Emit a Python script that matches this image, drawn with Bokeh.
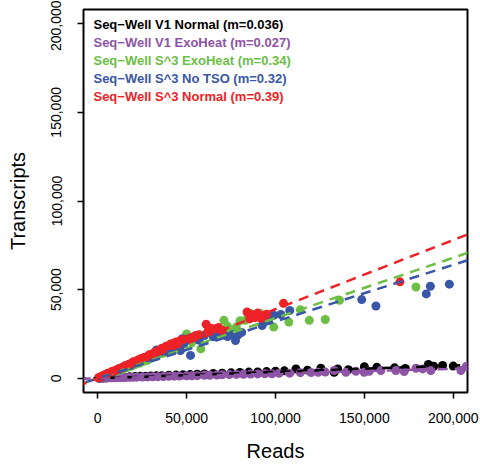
from bokeh.plotting import figure
from bokeh.models import Range1d, FixedTicker, NumeralTickFormatter, Slope, Label
from bokeh.embed import file_html
from bokeh.resources import INLINE

# Seq-Well V1 Normal
v1_norm_reads = [1000, 3000, 5000, 7000, 9000, 11000, 13000, 15000, 18000, 21000, 24000, 27000,
                 30000, 33000, 36000, 40000, 44000, 48000, 52000, 56000, 60000, 65000, 70000, 75000,
                 80000, 85000, 90000, 95000, 100000, 105000, 111500, 118000, 125500, 133000, 135000,
                 141000, 150000, 157000, 167000, 173000, 186000, 189000, 194000, 200000]
v1_norm_tx = [100, 200, 350, 400, 500, 600, 700, 750, 900, 1000, 1100, 1200,
              1300, 1400, 1500, 1700, 1800, 2000, 2100, 2300, 2500, 2700, 2900, 3100,
              3300, 3500, 3600, 3800, 4000, 4200, 5300, 4600, 5700, 3400, 5300,
              4900, 6500, 6200, 5900, 5600, 7800, 6800, 7200, 6900]

# Seq-Well V1 ExoHeat
v1_exo_reads = [500, 2000, 3500, 5000, 6500, 8000, 10000, 12000, 14000, 16000, 18000, 20000,
                22000, 25000, 28000, 31000, 34000, 37000, 40000, 43000, 46000, 50000, 53000, 56000,
                60000, 63000, 67000, 70000, 74000, 78000, 82000, 86000, 90000, 94000, 98000, 102000,
                108000, 114000, 120000, 124000, 128000, 133000, 139600, 145200, 149900, 152700,
                159300, 167700, 172400, 179000, 182800, 187400, 204300, 207200]
v1_exo_tx = [0, 100, 150, 200, 250, 300, 350, 400, 450, 500, 550, 600,
             650, 750, 800, 900, 950, 1000, 1100, 1200, 1300, 1400, 1400, 1500,
             1700, 1700, 1900, 2000, 2100, 2200, 2300, 2400, 2500, 2600, 2600, 2800,
             2900, 3200, 3300, 3400, 3500, 4400, 3400, 4000, 3400, 4000,
             4400, 4400, 3800, 5700, 5300, 4400, 4400, 6600]

# Seq-Well S^3 ExoHeat
s3_exo_reads = [1000, 2500, 4000, 6000, 8000, 10000, 12000, 14000, 16500, 19000, 21000, 23500,
                26000, 28000, 30000, 33000, 35000, 37000, 39000, 42000, 45000, 48000, 50000, 53000,
                55000, 58000, 60000, 64000, 67000, 71000, 73000, 75000, 78000, 80000, 83000, 86000,
                89000, 91500, 94000, 99000, 107500, 114000, 119000, 128000, 136000, 179000]
s3_exo_tx = [500, 1000, 1500, 2300, 3000, 3700, 4400, 5100, 6000, 6800, 7800, 8500,
             9600, 10200, 11500, 12400, 13800, 14200, 15100, 17000, 18600, 19800, 25000, 20500,
             21700, 16600, 24500, 25700, 27800, 32700, 29300, 26000, 28900, 32400, 32700, 36500,
             34800, 36500, 35000, 28900, 31700, 38700, 32700, 33200, 44000, 51500]

# Seq-Well S^3 No TSO
s3_notso_reads = [800, 2000, 3000, 4500, 6000, 7500, 9000, 10500, 12000, 13500, 15000, 17000,
                  18500, 20000, 22000, 24000, 26000, 28000, 30000, 31500, 33000, 35000, 36500, 38000,
                  40000, 42000, 44000, 46500, 47600, 48500, 50000, 52200, 54000, 57000, 60000, 65000,
                  68000, 70000, 73000, 76000, 77500, 79000, 81000, 92500, 96000, 99000, 103000,
                  108000, 148500, 156500, 184800, 187100, 197800]
s3_notso_tx = [300, 700, 1100, 1800, 2500, 3200, 3600, 4600, 5000, 5900, 6300, 7200,
               7400, 8600, 9000, 10000, 11500, 11600, 13300, 12000, 15900, 14500, 16600, 15300,
               17700, 16300, 18800, 15700, 22300, 19500, 22000, 12900, 23500, 21500, 24100, 23400,
               25600, 26800, 23600, 24500, 21300, 24600, 25900, 29800, 33000, 35500, 36000,
               38300, 44400, 40800, 47600, 51900, 53100]

# Seq-Well S^3 Normal
s3_norm_reads = [500, 1500, 2500, 3500, 4500, 5500, 6500, 7500, 8500, 9500, 11000, 12000,
                 13500, 15000, 16000, 17500, 19000, 20000, 21500, 23000, 24500, 26000, 27500, 29000,
                 30500, 32000, 33500, 35000, 36000, 37500, 38500, 40000, 41000, 42500, 44000, 46000,
                 48000, 52000, 55000, 57000, 61000, 62000, 63500, 66000, 68000, 70000, 84000, 85500,
                 87000, 88500, 90000, 92000, 93500, 95000, 104500, 170000]
s3_norm_tx = [300, 800, 1300, 1700, 2200, 2800, 2900, 3500, 4000, 4200, 5000, 5600,
              6000, 6900, 7200, 7900, 8600, 9300, 9600, 10500, 11200, 11800, 12100, 13300,
              13600, 14700, 15200, 15800, 16900, 17200, 18100, 18400, 19300, 19600, 20500, 21000,
              21900, 22800, 24100, 24600, 30500, 26500, 28200, 27900, 28700, 27000, 37400, 33500,
              35900, 34200, 36800, 33800, 35300, 36100, 42300, 54400]

series_names = ["Seq\u2212Well V1 Normal", "Seq\u2212Well V1 ExoHeat", "Seq\u2212Well S^3 ExoHeat",
                "Seq\u2212Well S^3 No TSO", "Seq\u2212Well S^3 Normal"]
slopes = [0.036, 0.027, 0.34, 0.32, 0.39]
slope_labels = ["0.036", "0.027", "0.34", "0.32", "0.39"]
colors = ["#000000", "#8E54A5", "#6CBE45", "#3A56A6", "#ED2227"]
reads = [v1_norm_reads, v1_exo_reads, s3_exo_reads, s3_notso_reads, s3_norm_reads]
transcripts = [v1_norm_tx, v1_exo_tx, s3_exo_tx, s3_notso_tx, s3_norm_tx]

ticks = [0, 50000, 100000, 150000, 200000]
FONT = "Liberation Sans"

p = figure(width=480, height=464, output_backend="svg", toolbar_location=None,
           x_range=Range1d(-8000, 208000), y_range=Range1d(-8000, 208000),
           min_border_left=83, min_border_right=13, min_border_top=9, min_border_bottom=71)
p.background_fill_color = "white"
p.border_fill_color = "white"
p.outline_line_color = "black"
p.outline_line_width = 2
p.grid.visible = False

for ax in (p.xaxis[0], p.yaxis[0]):
    ax.ticker = FixedTicker(ticks=ticks)
    ax.formatter = NumeralTickFormatter(format="0,0")
    ax.axis_line_color = None
    ax.major_tick_in = 0
    ax.major_tick_out = 6
    ax.major_tick_line_width = 1.5
    ax.minor_tick_line_color = None
    ax.major_label_text_font = FONT
    ax.major_label_text_font_size = "14px"
    ax.major_label_text_color = "black"
    ax.axis_label_text_font = FONT
    ax.axis_label_text_font_size = "20px"
    ax.axis_label_text_font_style = "normal"
    ax.axis_label_text_color = "black"

p.xaxis.axis_label = "Reads"
p.yaxis.axis_label = "Transcripts"
p.xaxis.major_label_standoff = 14
p.xaxis.axis_label_standoff = 14
p.yaxis.major_label_orientation = "parallel"
p.yaxis.major_label_standoff = 16
p.yaxis.axis_label_standoff = 20

# scatter points, one layer per library
for xs, ys, c in zip(reads, transcripts, colors):
    p.scatter(xs, ys, size=9, fill_color=c, line_color=None)

# fitted lines through the origin
for m, c in zip(slopes, colors):
    p.add_layout(Slope(gradient=m, y_intercept=0, line_color=c, line_width=2.5,
                       line_dash="10 7"))

# coloured legend text in the upper-left corner
for i, (name, ml, c) in enumerate(zip(series_names, slope_labels, colors)):
    p.add_layout(Label(x=-2400, y=199700 - i * 10150, text=f"{name} (m={ml})",
                       text_color=c, text_font=FONT, text_font_size="13px",
                       text_font_style="bold", text_baseline="middle"))

open("out.html", "w").write(file_html(p, INLINE))
